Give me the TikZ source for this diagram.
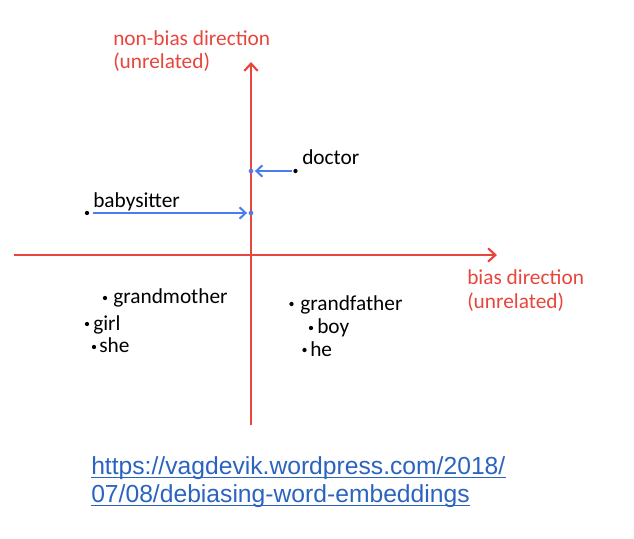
\documentclass[tikz,border=0pt]{standalone}
\usepackage{fontspec}
\setmainfont{Carlito}
\newfontfamily\urlfont{Liberation Sans}
\usetikzlibrary{arrows.meta}

\definecolor{axisred}{HTML}{E8453C}
\definecolor{projblue}{HTML}{4A7BEF}
\definecolor{linkblue}{HTML}{2A64C0}

\begin{document}
\begin{tikzpicture}[x=0.75pt, y=-0.75pt,
		axis/.style={axisred, line width=1.6pt, -{Straight Barb[length=5.5pt,width=10pt]}},
		proj/.style={projblue, line width=1.5pt, -{Straight Barb[length=4.5pt,width=8.5pt]}},
		dot/.style={circle, fill=black, inner sep=0pt, minimum size=3.2pt},
		bluedot/.style={circle, fill=projblue, inner sep=0pt, minimum size=3.5pt},
		word/.style={anchor=base west, inner sep=0pt, font=\fontsize{16}{19}\selectfont},
		axislabel/.style={word, text=axisred},
		link/.style={anchor=base west, inner sep=0pt, text=linkblue, font=\urlfont\fontsize{18.5}{21}\selectfont},
		underline/.style={linkblue, line width=1pt}]
		\useasboundingbox (0,0) rectangle (634,538);

		% Axes
		\coordinate (xl) at (14,255);
		\coordinate (xr) at (497,255);
		\coordinate (yb) at (251,425);
		\coordinate (yt) at (251,62);
		\draw[axis] (xl) -- (xr);
		\draw[axis] (yb) -- (yt);

		\node[axislabel] (ytitle) at (113,46) {non-bias direction};
		\node[axislabel] (ynote) at (113,69) {(unrelated)};
		\node[axislabel] (xtitle) at (467,284) {bias direction};
		\node[axislabel] (xnote) at (467,308) {(unrelated)};

		% Words above the bias axis, projected onto the non-bias axis
		\node[dot] (doctordot) at (295.5,171) {};
		\node[word] (doctor) at (302,165) {doctor};
		\node[bluedot] (doctorproj) at (251,171) {};
		\draw[proj, shorten <=1pt, shorten >=1pt] (doctordot) -- (doctorproj);

		\node[dot] (babysitterdot) at (87,213) {};
		\node[word] (babysitter) at (93,208) {babysitter};
		\node[bluedot] (babysitterproj) at (251,213) {};
		\draw[proj, shorten <=3pt, shorten >=1pt] (babysitterdot) -- (babysitterproj);

		% Gendered words
		\node[dot] (grandmotherdot) at (105,298) {};
		\node[word] (grandmother) at (113,303) {grandmother};
		\node[dot] (girldot) at (87,324) {};
		\node[word] (girl) at (93,330) {girl};
		\node[dot] (shedot) at (94,347) {};
		\node[word] (she) at (99,352) {she};

		\node[dot] (grandfatherdot) at (291.5,304) {};
		\node[word] (grandfather) at (300,310) {grandfather};
		\node[dot] (boydot) at (311,328) {};
		\node[word] (boy) at (317,333) {boy};
		\node[dot] (hedot) at (304.5,350) {};
		\node[word] (he) at (310,356) {he};

		% Source
		\node[link] (url1) at (91,474) {https://vagdevik.wordpress.com/2018/};
		\node[link] (url2) at (91,502) {07/08/debiasing-word-embeddings};
		\draw[underline] ([yshift=-2.5pt]url1.base west) -- ([yshift=-2.5pt]url1.base east);
		\draw[underline] ([yshift=-2.5pt]url2.base west) -- ([yshift=-2.5pt]url2.base east);
	\end{tikzpicture}
\end{document}
